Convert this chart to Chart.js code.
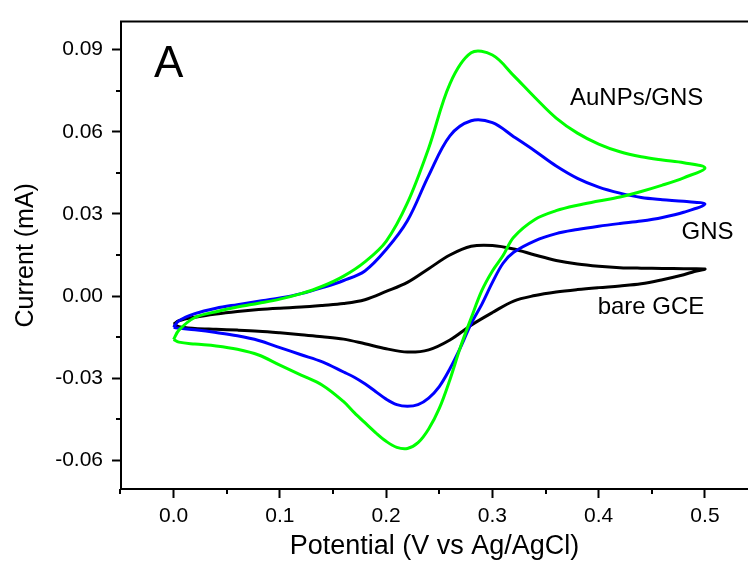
<!DOCTYPE html>
<html>
<head>
<meta charset="utf-8">
<script src="https://cdn.jsdelivr.net/npm/chart.js@4/dist/chart.umd.min.js"></script>
<style>
  html, body { margin: 0; padding: 0; background: #fff; }
  #wrap { width: 748px; height: 565px; }
</style>
</head>
<body>
<div id="wrap"><canvas id="cv" width="748" height="565"></canvas></div>
<script>
// AuNPs/GNS (green) - anodic scan 0 -> 0.5 V, then cathodic scan back
var greenFwdX = [0.000, 0.005, 0.02, 0.04, 0.06, 0.08, 0.10, 0.12, 0.14, 0.16, 0.18, 0.20, 0.22, 0.24, 0.26, 0.28, 0.30, 0.32, 0.34, 0.36, 0.38, 0.40, 0.42, 0.44, 0.46, 0.48, 0.50];
var greenFwdY = [-0.0158, -0.0124, -0.0078, -0.0057, -0.0040, -0.0026, -0.0011, 0.0009, 0.0036, 0.0073, 0.0125, 0.0200, 0.0340, 0.0540, 0.0775, 0.0888, 0.0880, 0.0805, 0.0725, 0.0650, 0.0595, 0.0555, 0.0527, 0.0509, 0.0497, 0.0487, 0.0468];
var greenRevX = [0.48, 0.46, 0.44, 0.42, 0.40, 0.38, 0.36, 0.34, 0.32, 0.31, 0.30, 0.29, 0.28, 0.27, 0.26, 0.25, 0.24, 0.23, 0.22, 0.21, 0.20, 0.19, 0.18, 0.17, 0.16, 0.14, 0.12, 0.10, 0.08, 0.06, 0.04, 0.02, 0.005, 0.000];
var greenRevY = [0.0432, 0.0405, 0.0382, 0.0362, 0.0347, 0.0332, 0.0312, 0.0280, 0.0215, 0.0148, 0.0092, 0.0020, -0.0080, -0.0185, -0.0305, -0.0410, -0.0485, -0.0535, -0.0556, -0.0552, -0.0530, -0.0498, -0.0462, -0.0425, -0.0385, -0.0325, -0.0288, -0.0252, -0.0215, -0.0194, -0.0182, -0.0175, -0.0168, -0.0158];

// GNS (blue)
var blueFwdX = [0.000, 0.005, 0.02, 0.04, 0.06, 0.08, 0.10, 0.12, 0.14, 0.16, 0.18, 0.20, 0.22, 0.24, 0.26, 0.28, 0.30, 0.32, 0.34, 0.36, 0.38, 0.40, 0.42, 0.44, 0.46, 0.48, 0.50];
var blueFwdY = [-0.0114, -0.0090, -0.0064, -0.0044, -0.0031, -0.0019, -0.0007, 0.0009, 0.0031, 0.0057, 0.0092, 0.0170, 0.0275, 0.0440, 0.0585, 0.0640, 0.0633, 0.0582, 0.0530, 0.0475, 0.0430, 0.0398, 0.0376, 0.0360, 0.0352, 0.0346, 0.0336];
var blueRevX = [0.48, 0.46, 0.44, 0.42, 0.40, 0.38, 0.36, 0.34, 0.32, 0.31, 0.30, 0.29, 0.28, 0.27, 0.26, 0.25, 0.24, 0.23, 0.22, 0.21, 0.20, 0.19, 0.18, 0.17, 0.16, 0.14, 0.12, 0.10, 0.08, 0.06, 0.04, 0.02, 0.005, 0.000];
var blueRevY = [0.0306, 0.0287, 0.0274, 0.0265, 0.0255, 0.0243, 0.0228, 0.0202, 0.0160, 0.0120, 0.0050, -0.0030, -0.0100, -0.0187, -0.0265, -0.0330, -0.0372, -0.0396, -0.0402, -0.0396, -0.0376, -0.0348, -0.0320, -0.0296, -0.0277, -0.0240, -0.0214, -0.0188, -0.0162, -0.0145, -0.0133, -0.0123, -0.0117, -0.0114];

// bare GCE (black)
var blackFwdX = [0.000, 0.005, 0.02, 0.04, 0.06, 0.08, 0.10, 0.12, 0.14, 0.16, 0.18, 0.20, 0.22, 0.24, 0.26, 0.28, 0.30, 0.32, 0.34, 0.36, 0.38, 0.40, 0.42, 0.44, 0.46, 0.48, 0.50];
var blackFwdY = [-0.0102, -0.0090, -0.0077, -0.0065, -0.0056, -0.0049, -0.0044, -0.0040, -0.0034, -0.0027, -0.0013, 0.0017, 0.0050, 0.0100, 0.0150, 0.0182, 0.0185, 0.0172, 0.0150, 0.0130, 0.0117, 0.0109, 0.0104, 0.0102, 0.0101, 0.0100, 0.0099];
var blackRevX = [0.49, 0.48, 0.46, 0.44, 0.42, 0.40, 0.38, 0.36, 0.34, 0.32, 0.30, 0.28, 0.26, 0.24, 0.22, 0.20, 0.18, 0.16, 0.14, 0.12, 0.10, 0.08, 0.06, 0.04, 0.02, 0.005, 0.000];
var blackRevY = [0.0090, 0.0078, 0.0060, 0.0045, 0.0037, 0.0031, 0.0024, 0.0015, 0.0002, -0.0018, -0.0060, -0.0106, -0.0160, -0.0196, -0.0204, -0.0192, -0.0174, -0.0157, -0.0148, -0.0141, -0.0134, -0.0128, -0.0124, -0.0121, -0.0118, -0.0112, -0.0102];

var xTicks = [0.0, 0.1, 0.2, 0.3, 0.4, 0.5];
var xMinorTicks = [-0.05, 0.05, 0.15, 0.25, 0.35, 0.45];
var yTicks = [-0.06, -0.03, 0.00, 0.03, 0.06, 0.09];
var yMinorTicks = [-0.045, -0.015, 0.015, 0.045, 0.075];

var FONT = "'Liberation Sans', Arial, sans-serif";

function toPoints(xs, ys) {
  var pts = [];
  for (var i = 0; i < xs.length; i++) {
    pts.push({x: xs[i], y: ys[i]});
  }
  return pts;
}

function loop(fx, fy, rx, ry) {
  return toPoints(fx, fy).concat(toPoints(rx, ry));
}

// text labels placed in data units
var notes = [
  {text: 'A', x: -0.0185, y: 0.0798, size: 44},
  {text: 'AuNPs/GNS', x: 0.373, y: 0.0696, size: 24},
  {text: 'GNS', x: 0.478, y: 0.0210, size: 24},
  {text: 'bare GCE', x: 0.399, y: -0.0067, size: 24}
];

var extras = {
  id: 'extras',
  afterDraw: function(chart) {
    var ctx = chart.ctx;
    var xs = chart.scales.x, ys = chart.scales.y;
    var area = chart.chartArea;
    ctx.save();
    ctx.strokeStyle = '#000';
    ctx.lineWidth = 2;
    // top frame line
    ctx.beginPath();
    ctx.moveTo(area.left - 1, area.top);
    ctx.lineTo(area.right, area.top);
    ctx.stroke();
    // minor ticks
    ctx.beginPath();
    xMinorTicks.forEach(function(v) {
      var px = Math.round(xs.getPixelForValue(v));
      if (px < area.left - 2 || px > area.right) return;
      ctx.moveTo(px, area.bottom);
      ctx.lineTo(px, area.bottom + 5);
    });
    yMinorTicks.forEach(function(v) {
      var py = Math.round(ys.getPixelForValue(v));
      ctx.moveTo(area.left, py);
      ctx.lineTo(area.left - 5, py);
    });
    ctx.stroke();
    // labels
    ctx.fillStyle = '#000';
    ctx.textAlign = 'left';
    ctx.textBaseline = 'alphabetic';
    notes.forEach(function(n) {
      ctx.font = n.size + 'px ' + FONT;
      ctx.fillText(n.text, xs.getPixelForValue(n.x), ys.getPixelForValue(n.y));
    });
    ctx.restore();
  }
};

var lineStyle = {showLine: true, pointRadius: 0, borderWidth: 3, tension: 0.35, fill: false, borderJoinStyle: 'round'};

new Chart(document.getElementById('cv').getContext('2d'), {
  type: 'scatter',
  data: {
    datasets: [
      Object.assign({label: 'AuNPs/GNS', data: loop(greenFwdX, greenFwdY, greenRevX, greenRevY), borderColor: '#00ff00'}, lineStyle),
      Object.assign({label: 'GNS', data: loop(blueFwdX, blueFwdY, blueRevX, blueRevY), borderColor: '#0000ff'}, lineStyle),
      Object.assign({label: 'bare GCE', data: loop(blackFwdX, blackFwdY, blackRevX, blackRevY), borderColor: '#000000'}, lineStyle)
    ]
  },
  options: {
    responsive: false,
    animation: false,
    layout: {padding: {top: 15, right: 0, left: 0, bottom: 0}},
    plugins: {legend: {display: false}, tooltip: {enabled: false}},
    scales: {
      x: {
        type: 'linear',
        min: -0.0495,
        max: 0.5405,
        afterBuildTicks: function(scale) {
          scale.ticks = xTicks.map(function(v) { return {value: v}; });
        },
        afterFit: function(scale) { scale.height = 76; },
        grid: {drawOnChartArea: false, drawTicks: true, tickLength: 9, tickWidth: 2, tickColor: '#000'},
        border: {display: true, color: '#000', width: 2},
        ticks: {
          color: '#000',
          padding: 6,
          maxRotation: 0,
          font: {family: FONT, size: 21},
          callback: function(v) { return Number(v).toFixed(1); }
        },
        title: {display: true, text: 'Potential (V vs Ag/AgCl)', color: '#000', font: {family: FONT, size: 27}, padding: {top: 0, bottom: 2}}
      },
      y: {
        type: 'linear',
        min: -0.0704,
        max: 0.1002,
        afterBuildTicks: function(scale) {
          scale.ticks = yTicks.map(function(v) { return {value: v}; });
        },
        afterFit: function(scale) { scale.width = 121; },
        grid: {drawOnChartArea: false, drawTicks: true, tickLength: 9, tickWidth: 2, tickColor: '#000'},
        border: {display: true, color: '#000', width: 2},
        ticks: {
          color: '#000',
          padding: 9,
          font: {family: FONT, size: 21},
          callback: function(v) { return Number(v).toFixed(2); }
        },
        title: {display: true, text: 'Current (mA)', color: '#000', font: {family: FONT, size: 25}, padding: {top: 11, bottom: 0}}
      }
    }
  },
  plugins: [extras]
});
</script>
</body>
</html>
